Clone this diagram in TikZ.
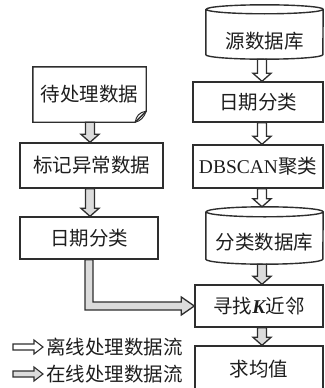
\documentclass[tikz,border=0pt]{standalone}
\usepackage{fontspec}
\setmainfont{Liberation Serif}
\newfontfamily\cjk{Noto Sans CJK SC}
\usetikzlibrary{calc}
\definecolor{edge}{HTML}{2E2E2E}
\definecolor{online}{HTML}{DCDCDC}
\definecolor{ink}{HTML}{1E1E1E}
\newcommand\vflow[4]{\draw[flow,fill=#1] let \p1=(#3), \p2=(#4) in
  (#2pt-4.5pt,\y1) -- (#2pt-4.5pt,\y2+8pt) -- (#2pt-9pt,\y2+8pt) -- (#2pt,\y2)
  -- (#2pt+9pt,\y2+8pt) -- (#2pt+4.5pt,\y2+8pt) -- (#2pt+4.5pt,\y1) -- cycle;}
\newcommand\hflow[3]{\draw[flow,line width=1.1pt,fill=#1] let \p1=(#2), \p2=(#3) in
  (\x1,\y1+3pt) -- (\x2-9pt,\y1+3pt) -- (\x2-9pt,\y1+7pt) -- (\x2,\y1)
  -- (\x2-9pt,\y1-7pt) -- (\x2-9pt,\y1-3pt) -- (\x1,\y1-3pt) -- cycle;}
\newcommand\cylpath[2]{\draw[cylline] ([yshift=-#2]#1.north west) -- ([yshift=#2]#1.south west)
  arc[start angle=180,end angle=360,x radius=58.5pt,y radius=#2]
  -- ([yshift=-#2]#1.north east)
  arc[start angle=0,end angle=180,x radius=58.5pt,y radius=#2]
  arc[start angle=180,end angle=360,x radius=58.5pt,y radius=#2];}
\begin{document}
\begin{tikzpicture}[x=1pt,y=-1pt,
  txt/.style={inner sep=0pt,text=ink,font=\fontsize{19.5}{20}\selectfont\cjk},
  box/.style={txt,draw=edge,line width=1.4pt},
  cyl/.style={txt,minimum width=117pt},
  cylline/.style={draw=edge,line width=1.4pt},
  flow/.style={draw=edge,line width=1.3pt,line join=miter},
]
\useasboundingbox (0,0) rectangle (324,388);
% right column
\node[cyl,text height=43pt,text depth=11pt] (src) at (264.5,32) {源数据库};
\cylpath{src}{4.5pt}
\node[box,minimum width=130pt,minimum height=40pt] (date2) at (258,102) {日期分类};
\node[box,minimum width=130pt,minimum height=43pt] (dbscan) at (258,166.5) {{\rmfamily DBSCAN}聚类};
\node[cyl,text height=42pt,text depth=15pt] (cdb) at (264.5,235.5) {分类数据库};
\cylpath{cdb}{5pt}
\node[box,minimum width=128pt,minimum height=42pt] (knn) at (259,306) {寻找{\rmfamily\bfseries\itshape K}近邻};
\node[box,minimum width=128pt,minimum height=46pt] (avg) at (259,369) {求均值};
% left column
\node[txt,minimum width=113pt,minimum height=55pt] (wait) at (89.5,94.5) {待处理数据};
\draw[cylline,line join=miter] (wait.north west) -- (wait.north east) -- ([yshift=11pt]wait.south east)
  -- ([xshift=-11pt]wait.south east) -- (wait.south west) -- cycle;
\draw[cylline,line width=1pt] ([yshift=11pt]wait.south east)
  .. controls ([xshift=-7pt,yshift=10pt]wait.south east) and ([xshift=-10pt,yshift=6pt]wait.south east) .. ([xshift=-11pt]wait.south east);
\draw[cylline,line width=1pt] ([yshift=11pt]wait.south east)
  .. controls ([xshift=-2pt,yshift=5pt]wait.south east) and ([xshift=-6pt,yshift=1pt]wait.south east) .. ([xshift=-11pt]wait.south east);
\node[box,minimum width=143pt,minimum height=45pt] (mark) at (91.5,165.5) {标记异常数据};
\node[box,minimum width=138pt,minimum height=42pt] (date1) at (89,238) {日期分类};
% flows
\vflow{white}{262}{src.south}{date2.north}
\vflow{white}{262}{date2.south}{dbscan.north}
\vflow{white}{262}{dbscan.south}{cdb.north}
\vflow{online}{262}{cdb.south}{knn.north}
\vflow{online}{262}{knn.south}{avg.north}
\vflow{online}{90}{wait.south}{mark.north}
\vflow{online}{90}{mark.south}{date1.north}
\draw[flow,fill=online] let \p1=(date1.south), \p2=(knn.west) in
  (\x1-4pt,\y1) -- (\x1-4pt,\y2-4pt) -- (\x2-13pt,\y2-4pt) -- (\x2-13pt,\y2-9pt)
  -- (\x2,\y2) -- (\x2-13pt,\y2+9pt) -- (\x2-13pt,\y2+4pt) -- (\x1+4pt,\y2+4pt)
  -- (\x1+4pt,\y1) -- cycle;
% legend
\node[txt,anchor=west] (leg1) at (46,347) {离线处理数据流};
\node[txt,anchor=west] (leg2) at (46,374) {在线处理数据流};
\coordinate (l1s) at (13,347);
\coordinate (l2s) at (13,374);
\coordinate (l1e) at ([xshift=-3pt]leg1.west);
\coordinate (l2e) at ([xshift=-3pt]leg2.west);
\hflow{white}{l1s}{l1e}
\hflow{online}{l2s}{l2e}
\end{tikzpicture}
\end{document}
